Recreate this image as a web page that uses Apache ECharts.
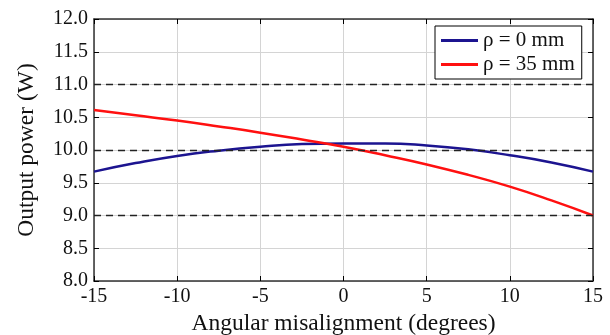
<!DOCTYPE html>
<html>
<head>
<meta charset="utf-8">
<script src="https://cdn.jsdelivr.net/npm/echarts@6/dist/echarts.min.js"></script>
<style>
  html, body { margin: 0; padding: 0; background: #fff; }
  #chart { width: 610px; height: 335px; }
</style>
</head>
<body>
<div id="chart"></div>
<script>
// angles in degrees
const angles = [-15, -12.5, -10, -7.5, -5, -2.5, 0, 2.5, 5, 7.5, 10, 12.5, 15];
// output power (W)
const rho0 = [9.67, 9.80, 9.91, 9.99, 10.05, 10.09, 10.10, 10.10, 10.07, 10.01, 9.92, 9.81, 9.67];
const rho35 = [10.61, 10.53, 10.45, 10.36, 10.265, 10.16, 10.05, 9.92, 9.78, 9.62, 9.44, 9.23, 9.00];
const dashedLevels = [9, 10, 11];

const font = '"Liberation Serif", "Times New Roman", serif';

function pairs(xs, ys) {
  return xs.map((x, i) => [x, ys[i]]);
}

const chart = echarts.init(document.getElementById('chart'));
chart.setOption({
  animation: false,
  grid: { left: 94, right: 17, top: 19, bottom: 54, outerBoundsMode: 'none' },
  legend: {
    left: 435,
    top: 26,
    orient: 'vertical',
    backgroundColor: '#fff',
    borderColor: '#000',
    borderWidth: 1,
    borderRadius: 0,
    padding: [4, 7, 4, 6],
    itemGap: 3,
    itemWidth: 37,
    itemHeight: 3,
    icon: 'rect',
    textStyle: { fontFamily: font, fontSize: 21, color: '#111', lineHeight: 20 },
    data: ['ρ = 0 mm', 'ρ = 35 mm']
  },
  xAxis: [
    {
      type: 'value',
      min: -15,
      max: 15,
      interval: 5,
      name: 'Angular misalignment (degrees)',
      nameLocation: 'middle',
      nameGap: 26,
      nameTextStyle: { fontFamily: font, fontSize: 23.5, color: '#111' },
      axisLine: { show: true, onZero: false, lineStyle: { color: '#333', width: 1.5 } },
      axisTick: { show: true, inside: true, length: 5, lineStyle: { color: '#000' } },
      axisLabel: { fontFamily: font, fontSize: 20, color: '#111', margin: 6 },
      splitLine: { show: true, lineStyle: { color: '#d4d4d4', width: 1 } }
    },
    {
      type: 'value',
      position: 'top',
      min: -15,
      max: 15,
      interval: 5,
      axisLine: { show: true, onZero: false, lineStyle: { color: '#333', width: 1.5 } },
      axisTick: { show: true, inside: true, length: 5, lineStyle: { color: '#000' } },
      axisLabel: { show: false },
      splitLine: { show: false }
    }
  ],
  yAxis: [
    {
      type: 'value',
      min: 8,
      max: 12,
      interval: 0.5,
      name: 'Output power (W)',
      nameLocation: 'middle',
      nameGap: 55,
      nameTextStyle: { fontFamily: font, fontSize: 23.5, color: '#111' },
      axisLine: { show: true, onZero: false, lineStyle: { color: '#333', width: 1.5 } },
      axisTick: { show: true, inside: true, length: 5, lineStyle: { color: '#000' } },
      axisLabel: {
        fontFamily: font, fontSize: 20, color: '#111', margin: 6,
        formatter: v => v.toFixed(1)
      },
      splitLine: { show: true, lineStyle: { color: '#d4d4d4', width: 1 } }
    },
    {
      type: 'value',
      position: 'right',
      min: 8,
      max: 12,
      interval: 0.5,
      axisLine: { show: true, onZero: false, lineStyle: { color: '#333', width: 1.5 } },
      axisTick: { show: true, inside: true, length: 5, lineStyle: { color: '#000' } },
      axisLabel: { show: false },
      splitLine: { show: false }
    }
  ],
  series: [
    {
      name: 'ρ = 0 mm',
      type: 'line',
      smooth: true,
      symbol: 'none',
      color: '#1c1490',
      lineStyle: { width: 2.5, color: '#1c1490' },
      data: pairs(angles, rho0),
      markLine: {
        silent: true,
        symbol: 'none',
        label: { show: false },
        lineStyle: { color: '#222', type: [7, 5], width: 1.4 },
        data: dashedLevels.map(v => ({ yAxis: v }))
      },
      z: 3
    },
    {
      name: 'ρ = 35 mm',
      type: 'line',
      smooth: true,
      symbol: 'none',
      color: '#ff1010',
      lineStyle: { width: 2.5, color: '#ff1010' },
      data: pairs(angles, rho35),
      z: 4
    }
  ]
});
</script>
</body>
</html>
